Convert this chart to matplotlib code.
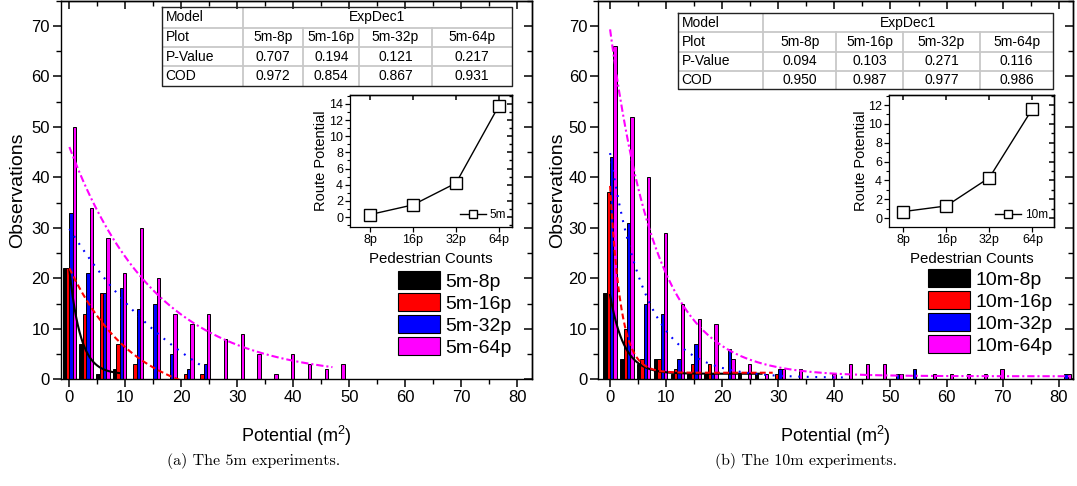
import numpy as np
import matplotlib
matplotlib.use('Agg')
import matplotlib.pyplot as plt
from matplotlib.patches import Patch
from matplotlib.ticker import MultipleLocator

plt.rcParams['font.family'] = ['Liberation Sans', 'DejaVu Sans']
plt.rcParams['mathtext.fontset'] = 'custom'
plt.rcParams['mathtext.rm'] = 'Liberation Sans'
plt.rcParams['mathtext.it'] = 'Liberation Sans:italic'

# ---------------- data ----------------
names_5m = ['5m-8p', '5m-16p', '5m-32p', '5m-64p']
names_10m = ['10m-8p', '10m-16p', '10m-32p', '10m-64p']

bins_5m = [0, 3, 6, 9, 12, 15, 18, 21, 24, 27, 30, 33, 36, 39, 42, 45, 48]
obs_5m_8p = [22, 7, 1, 2, 0, 0, 0, 0, 0, 0, 0, 0, 0, 0, 0, 0, 0]
obs_5m_16p = [22, 13, 17, 7, 3, 0, 0, 1, 1, 0, 0, 0, 0, 0, 0, 0, 0]
obs_5m_32p = [33, 21, 17, 18, 14, 15, 5, 2, 3, 0, 0, 0, 0, 0, 0, 0, 0]
obs_5m_64p = [50, 34, 28, 21, 30, 20, 13, 11, 13, 8, 9, 5, 1, 5, 3, 2, 3]

bins_10m = [0, 3, 6, 9, 12, 15, 18, 21, 24, 27, 30, 33, 36, 39, 42, 45, 48,
            51, 54, 57, 60, 63, 66, 69, 72, 75, 78, 81]
obs_10m_8p = [17, 4, 3, 4, 1, 1, 1, 0, 1, 1, 0, 0, 0, 0, 0, 0, 0,
              0, 0, 0, 0, 0, 0, 0, 0, 0, 0, 0]
obs_10m_16p = [37, 10, 4, 4, 2, 3, 3, 0, 0, 0, 1, 0, 0, 0, 0, 0, 0,
               0, 0, 0, 0, 0, 0, 0, 0, 0, 0, 0]
obs_10m_32p = [44, 31, 15, 13, 4, 7, 1, 6, 0, 0, 2, 0, 0, 0, 0, 0, 0,
               1, 2, 0, 0, 0, 0, 0, 0, 0, 0, 1]
obs_10m_64p = [66, 52, 40, 29, 15, 12, 11, 4, 3, 1, 2, 2, 0, 1, 3, 3, 3,
               1, 0, 1, 1, 1, 1, 2, 0, 0, 0, 1]

# ExpDec1 fits  y = A*exp(-x/t) + y0 : (A, t, y0, x_start, x_end)
fit_5m = [(20.7, 2.0, 1.0, 0, 9), (27.0, 11.5, -5.0, 0, 20.5),
          (44.8, 25.4, -15.0, 0, 24), (45.8, 15.5, 0.2, 0, 47)]
fit_10m = [(15.6, 2.5, 1.1, 0, 27), (37.0, 1.9, 1.3, 0, 29),
           (44.5, 6.4, 0.3, 0, 42), (68.7, 8.2, 0.6, 0, 82)]

# insets
ped_counts = ['8p', '16p', '32p', '64p']
route_5m = [0.3, 1.5, 4.2, 13.8]
route_10m = [0.7, 1.3, 4.3, 11.6]

# tables
tab_model = ['Model', 'ExpDec1']
tab_rows = ['Plot', 'P-Value', 'COD']
plot_5m = ['5m-8p', '5m-16p', '5m-32p', '5m-64p']
pval_5m = ['0.707', '0.194', '0.121', '0.217']
cod_5m = ['0.972', '0.854', '0.867', '0.931']
plot_10m = ['5m-8p', '5m-16p', '5m-32p', '5m-64p']
pval_10m = ['0.094', '0.103', '0.271', '0.116']
cod_10m = ['0.950', '0.987', '0.977', '0.986']

captions = ['(a) The 5m experiments.', '(b) The 10m experiments.']

# ---------------- style ----------------
colors = ['#000000', '#FF0000', '#0000FF', '#FF00FF']
line_styles = [dict(ls='-'), dict(dashes=(2.8, 1.6)), dict(dashes=(0.9, 3.2)),
               dict(dashes=(3.5, 1.4, 1.0, 1.4))]

W, H = 1077, 486
fig = plt.figure(figsize=(W / 100, H / 100), dpi=100)


def px_axes(x0, y0, x1, y1):
    return fig.add_axes([x0 / W, 1 - y1 / H, (x1 - x0) / W, (y1 - y0) / H])


def in_ticks(ax, xmaj, xmin, ymaj, ymin, L=6, l=3.5):
    sx = ax.secondary_xaxis('top')
    sy = ax.secondary_yaxis('right')
    for s in (sx, sy):
        s.tick_params(direction='in', which='major', length=L, width=1.1,
                      labeltop=False, labelright=False)
        s.tick_params(direction='in', which='minor', length=l, width=1.0)
    if xmaj is None:
        sx.set_xticks(ax.get_xticks())
        sx.set_xticklabels([])
    else:
        sx.xaxis.set_major_locator(MultipleLocator(xmaj))
        sx.xaxis.set_minor_locator(MultipleLocator(xmin))
        sx.set_xticklabels([])
    sy.yaxis.set_major_locator(MultipleLocator(ymaj))
    sy.yaxis.set_minor_locator(MultipleLocator(ymin))
    sy.set_yticklabels([])
    for s in (sx, sy):
        for sp in s.spines.values():
            sp.set_linewidth(1.0)


def main_panel(box, xlim, bins, series, names, fits, legend_xy, ylabel_x):
    ax = px_axes(*box)
    bw = 0.6
    offs = [-0.9, -0.3, 0.3, 0.9]
    b = np.array(bins, dtype=float)
    for vals, c, o, n in zip(series, colors, offs, names):
        ax.bar(b + o, vals, width=bw, color=c, edgecolor='black',
               linewidth=0.7, label=n, zorder=2)
    for (A, t, y0, xs, xe), c, st in zip(fits, colors, line_styles):
        xx = np.linspace(xs, xe, 300)
        ax.plot(xx, A * np.exp(-xx / t) + y0, color=c, lw=1.5, zorder=3, **st)
    ax.set_xlim(*xlim)
    ax.set_ylim(0, 75)
    ax.xaxis.set_major_locator(MultipleLocator(10))
    ax.xaxis.set_minor_locator(MultipleLocator(5))
    ax.yaxis.set_major_locator(MultipleLocator(10))
    ax.yaxis.set_minor_locator(MultipleLocator(5))
    ax.tick_params(direction='out', which='major', length=6, width=1.1,
                   labelsize=12, pad=2)
    ax.tick_params(direction='out', which='minor', length=3.5, width=1.0)
    for sp in ax.spines.values():
        sp.set_linewidth(1.0)
    in_ticks(ax, 10, 5, 10, 5)
    ax.set_ylabel('Observations', fontsize=14)
    ax.yaxis.set_label_coords(ylabel_x, 0.5)
    ax.set_xlabel('Potential (m$^2$)', fontsize=13)
    ax.xaxis.set_label_coords(0.5, -0.118)
    handles = [Patch(facecolor=c, edgecolor='black', linewidth=0.8) for c in colors]
    ax.legend(handles, names, loc='upper left',
              bbox_to_anchor=(legend_xy[0] / W, 1 - legend_xy[1] / H),
              bbox_transform=fig.transFigure, frameon=False, fontsize=14,
              borderpad=0, borderaxespad=0, handlelength=2.15,
              handleheight=1.05, labelspacing=0.12, handletextpad=0.3)
    return ax


def inset(box, xlim, ylim, vals, label, ylabel_x):
    ax = px_axes(*box)
    x = np.arange(len(ped_counts))
    ax.plot(x, vals, '-s', color='black', mfc='white', mec='black', ms=8,
            mew=1.0, lw=1.0, label=label, zorder=3)
    ax.set_xticks(x)
    ax.set_xticklabels(ped_counts)
    ax.set_xlim(*xlim)
    ax.set_ylim(*ylim)
    ax.yaxis.set_major_locator(MultipleLocator(2))
    ax.yaxis.set_minor_locator(MultipleLocator(1))
    ax.tick_params(direction='out', which='major', length=3.5, width=0.9,
                   labelsize=9, pad=1.5)
    ax.tick_params(direction='out', which='minor', length=2, width=0.8)
    for sp in ax.spines.values():
        sp.set_linewidth(0.9)
    in_ticks(ax, None, None, 2, 1, L=3.5, l=2)
    ax.set_ylabel('Route Potential', fontsize=10.5)
    ax.yaxis.set_label_coords(ylabel_x, 0.5)
    ax.set_xlabel('Pedestrian Counts', fontsize=10.8)
    ax.xaxis.set_label_coords(0.5, -0.19)
    ax.legend(loc='lower right', frameon=False, fontsize=8.5, handlelength=2.2,
              borderpad=0.3, handletextpad=0.3, borderaxespad=0.2,
              markerscale=0.8)
    return ax


def table(box, col_edges, row_edges, plots, pvals, cods):
    x0, y0, x1, y1 = box
    ax = px_axes(*box)
    Wt, Ht = x1 - x0, y1 - y0
    ax.set_xlim(0, Wt)
    ax.set_ylim(Ht, 0)
    ax.axis('off')
    grey = '#c8c8c8'
    for r in row_edges[1:-1]:
        ax.plot([0, Wt], [r, r], color=grey, lw=1.3, solid_capstyle='butt')
    ax.plot([col_edges[1]] * 2, [0, Ht], color=grey, lw=1.3)
    for c in col_edges[2:-1]:
        ax.plot([c, c], [row_edges[1], Ht], color=grey, lw=1.3)
    ax.plot([0, Wt, Wt, 0, 0], [0, 0, Ht, Ht, 0], color='#222222', lw=1.0,
            clip_on=False)
    fs = 10
    cy = [(row_edges[i] + row_edges[i + 1]) / 2 for i in range(4)]
    ax.text(4, cy[0], tab_model[0], ha='left', va='center', fontsize=fs)
    ax.text((col_edges[1] + Wt) / 2, cy[0], tab_model[1], ha='center',
            va='center', fontsize=fs)
    for i, (rn, vals) in enumerate(zip(tab_rows, [plots, pvals, cods])):
        ax.text(4, cy[i + 1], rn, ha='left', va='center', fontsize=fs)
        for j, v in enumerate(vals):
            ax.text((col_edges[j + 1] + col_edges[j + 2]) / 2, cy[i + 1], v,
                    ha='center', va='center', fontsize=fs)


main_panel((61, 0.6, 531.7, 379.3), (-1.5, 82.6), bins_5m,
           [obs_5m_8p, obs_5m_16p, obs_5m_32p, obs_5m_64p], names_5m, fit_5m,
           (397.7, 271), -0.074)
main_panel((598.3, 0.6, 1073.3, 379.3), (-2.1, 82.6), bins_10m,
           [obs_10m_8p, obs_10m_16p, obs_10m_32p, obs_10m_64p], names_10m,
           fit_10m, (928.3, 269), -0.068)

table((161.7, 7.3, 511.7, 86), [0, 81.6, 141.6, 197.6, 270, 350],
      [0, 20.4, 40, 58.7, 78.7], plot_5m, pval_5m, cod_5m)
table((677.7, 13.3, 1053.3, 89.3), [0, 85.6, 158.3, 225.3, 302.3, 375.6],
      [0, 19, 38.4, 57.4, 76], plot_10m, pval_10m, cod_10m)

inset((350, 95, 511.7, 226.7), (-0.465, 3.295), (-1.2, 15.1), route_5m,
      '5m', -0.135)
inset((889, 95, 1054, 226.7), (-0.33, 3.5), (-0.9, 13.06), route_10m,
      '10m', -0.13)

fig.text(254 / W, 1 - 461 / H, captions[0], ha='center', va='center',
         fontfamily='cmr10', fontsize=11.5)
fig.text(806 / W, 1 - 461 / H, captions[1], ha='center', va='center',
         fontfamily='cmr10', fontsize=11.5)

fig.savefig('out.png', dpi=100)
